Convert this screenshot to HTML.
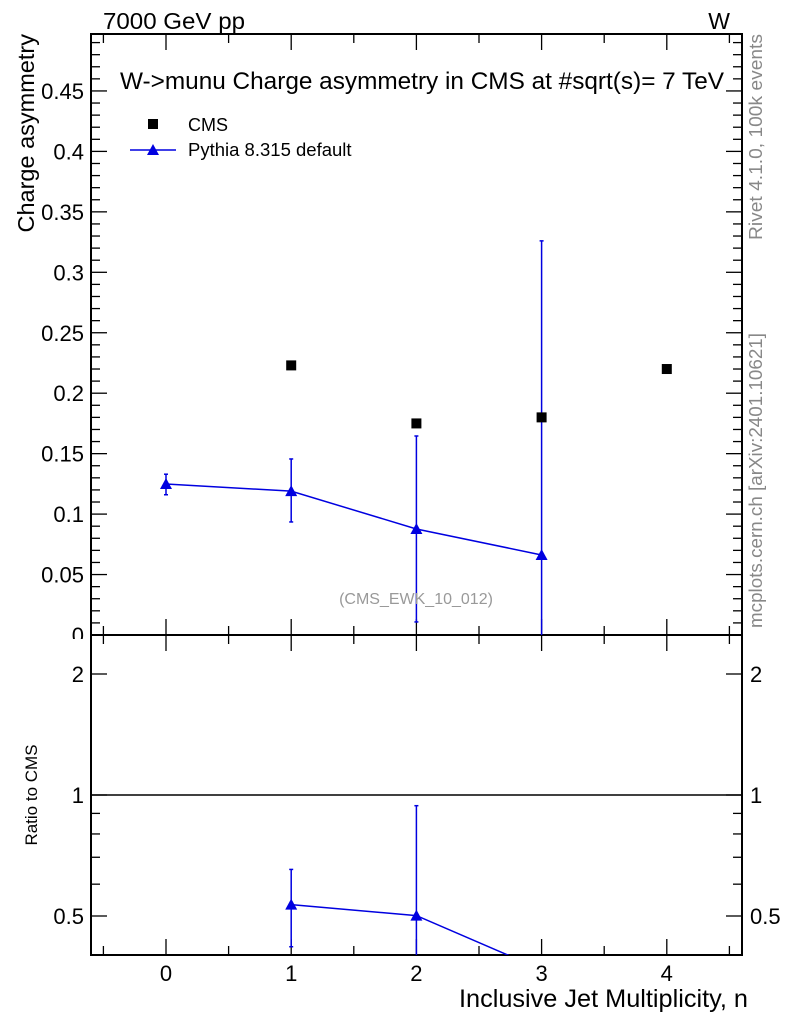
<!DOCTYPE html>
<html><head><meta charset="utf-8"><style>html,body{margin:0;background:#fff;overflow:hidden;width:786px;height:1024px}svg{display:block}</style></head>
<body>
<svg id="c" width="786" height="1024" xmlns="http://www.w3.org/2000/svg" font-family="Liberation Sans, sans-serif"></svg>
<script>
const categories=[0,1,2,3,4];
const cmsX=[1,2,3,4];
const cmsY=[0.223,0.175,0.180,0.220];
const pyX=[0,1,2,3];
const pyY=[0.1249,0.119,0.0877,0.0662];
const pyLo=[0.116,0.0935,0.0108,-0.05];
const pyHi=[0.133,0.1456,0.1646,0.326];
const yTicks=[0,0.05,0.1,0.15,0.2,0.25,0.3,0.35,0.4,0.45];
const yTickLabels=["0","0.05","0.1","0.15","0.2","0.25","0.3","0.35","0.4","0.45"];
const rTicks=[0.5,1,2];
const rTickLabels=["0.5","1","2"];

const NS="http://www.w3.org/2000/svg";
const svg=document.getElementById('c');
const L=91,R=742,T=34,MB=635,RB=955;
const RMIN=0.4,RMAX=2.5;
const X=v=>166+(v)*125.2;
const Y=v=>635-v*1209;
const RY=v=>795-Math.log2(v)*121;
function el(tag,a,parent){const e=document.createElementNS(NS,tag);for(const k in a)e.setAttribute(k,a[k]);(parent||svg).appendChild(e);return e;}
function txt(s,a,parent){const e=el('text',a,parent);e.textContent=s;return e;}

const defs=el('defs',{});
const c1=el('clipPath',{id:'cm'},defs);el('rect',{x:L,y:T,width:R-L,height:MB-T},c1);
const c2=el('clipPath',{id:'cr'},defs);el('rect',{x:L,y:MB,width:R-L,height:RB-MB},c2);
const c3=el('clipPath',{id:'cl'},defs);el('rect',{x:0,y:0,width:L,height:639},c3);

let f=el('rect',{x:L,y:T,width:R-L,height:MB-T,fill:'none',stroke:'#000','stroke-width':2});

f=el('rect',{x:L,y:MB,width:R-L,height:RB-MB,fill:'none',stroke:'#000','stroke-width':2});


for(let v=-0.5;v<=4.5;v+=0.5){
  const maj=Number.isInteger(v);const len=maj?16:9;const x=X(v);
  for(const [y0,d] of [[MB,-1],[T,1],[RB,-1],[MB,1]]){el('line',{x1:x,x2:x,y1:y0,y2:y0+d*len,stroke:'#000','stroke-width':1.3});}
}
for(let i=0;i<=49;i++){const v=i*0.01;const maj=i%5==0;const len=maj?16:9;const y=Y(v);
  el('line',{x1:L,x2:L+len,y1:y,y2:y,stroke:'#000','stroke-width':1.3});
  el('line',{x1:R,x2:R-len,y1:y,y2:y,stroke:'#000','stroke-width':1.3});}
const gl=el('g',{'clip-path':'url(#cl)'});
yTicks.forEach((v,i)=>{const t=txt(yTickLabels[i],{x:84,y:Y(v)+8,'text-anchor':'end','font-size':22},gl);
  });
[0.4,0.5,0.6,0.7,0.8,0.9,1,2].forEach(v=>{const maj=rTicks.includes(v);const len=maj?16:9;const y=RY(v);
  el('line',{x1:L,x2:L+len,y1:y,y2:y,stroke:'#000','stroke-width':1.3});
  el('line',{x1:R,x2:R-len,y1:y,y2:y,stroke:'#000','stroke-width':1.3});});
rTicks.forEach((v,i)=>{let t=txt(rTickLabels[i],{x:84,y:RY(v)+8,'text-anchor':'end','font-size':22});
  
  t=txt(rTickLabels[i],{x:750,y:RY(v)+8,'font-size':22});
  });
el('line',{x1:L,x2:R,y1:RY(1),y2:RY(1),stroke:'#000','stroke-width':1.5});
categories.forEach(v=>{const t=txt(String(v),{x:X(v),y:981,'text-anchor':'middle','font-size':22});
  });

const gm=el('g',{'clip-path':'url(#cm)'});
let pl=el('polyline',{points:pyX.map((x,i)=>X(x)+','+Y(pyY[i])).join(' '),fill:'none',stroke:'#0000e0','stroke-width':1.5},gm);

pyX.forEach((x,i)=>{const cx=X(x);
  const e=el('line',{x1:cx,x2:cx,y1:Y(pyLo[i]),y2:Y(pyHi[i]),stroke:'#0000e0','stroke-width':1.5},gm);
  
  [pyLo[i],pyHi[i]].forEach(v=>el('line',{x1:cx-2,x2:cx+2,y1:Y(v),y2:Y(v),stroke:'#0000e0','stroke-width':1.5},gm));
  const cy=Y(pyY[i]);
  const m=el('polygon',{points:`${cx},${cy-6} ${cx-6},${cy+5} ${cx+6},${cy+5}`,fill:'#0000e0'},gm);
  });
cmsX.forEach((x,i)=>{const m=el('rect',{x:X(x)-5,y:Y(cmsY[i])-5,width:10,height:10,fill:'#000'});
  });

const gr=el('g',{'clip-path':'url(#cr)'});
const rx=[],ry=[],rlo=[],rhi=[];
pyX.forEach((x,i)=>{const j=cmsX.indexOf(x);if(j<0)return;const c=cmsY[j];
  rx.push(x);ry.push(pyY[i]/c);rlo.push(Math.max(pyLo[i],0.001)/c);rhi.push(pyHi[i]/c);});
pl=el('polyline',{points:rx.map((x,i)=>X(x)+','+RY(ry[i])).join(' '),fill:'none',stroke:'#0000e0','stroke-width':1.5},gr);

rx.forEach((x,i)=>{if(ry[i]<RMIN||ry[i]>RMAX)return;const cx=X(x);
  const e=el('line',{x1:cx,x2:cx,y1:RY(rlo[i]),y2:RY(rhi[i]),stroke:'#0000e0','stroke-width':1.5},gr);
  
  [rlo[i],rhi[i]].forEach(v=>el('line',{x1:cx-2,x2:cx+2,y1:RY(v),y2:RY(v),stroke:'#0000e0','stroke-width':1.5},gr));
  const cy=RY(ry[i]);
  const m=el('polygon',{points:`${cx},${cy-6} ${cx-6},${cy+5} ${cx+6},${cy+5}`,fill:'#0000e0'},gr);
  });

let lg=el('rect',{x:148,y:119,width:10,height:10,fill:'#000'});

let t=txt('CMS',{x:188,y:131,'font-size':18});
el('line',{x1:130,x2:176,y1:150,y2:150,stroke:'#0000e0','stroke-width':1.5});
el('polygon',{points:'153,144 147,155 159,155',fill:'#0000e0'});
t=txt('Pythia 8.315 default',{x:188,y:156,'font-size':18.5});

t=txt('W->munu Charge asymmetry in CMS at #sqrt(s)= 7 TeV',{x:120,y:89,'font-size':24,textLength:604,lengthAdjust:'spacingAndGlyphs'});
t=txt('7000 GeV pp',{x:103,y:29,'font-size':23,textLength:142,lengthAdjust:'spacingAndGlyphs'});
t=txt('W',{x:730,y:29,'font-size':23,'text-anchor':'end'});
t=txt('(CMS_EWK_10_012)',{x:416,y:604,'font-size':16,fill:'#999','text-anchor':'middle'});
t=txt('Charge asymmetry',{x:0,y:0,'font-size':23.5,'text-anchor':'end',transform:'translate(34,34) rotate(-90)'});
t=txt('Ratio to CMS',{x:0,y:0,'font-size':17,'text-anchor':'middle',transform:'translate(37,795) rotate(-90)'});
t=txt('Inclusive Jet Multiplicity, n',{x:748,y:1007,'font-size':25,'text-anchor':'end',textLength:289,lengthAdjust:'spacingAndGlyphs'});
t=txt('Rivet 4.1.0,  100k events',{x:0,y:0,'font-size':18,fill:'#888','text-anchor':'end',textLength:206,lengthAdjust:'spacingAndGlyphs',transform:'translate(762,34) rotate(-90)'});
t=txt('mcplots.cern.ch [arXiv:2401.10621]',{x:0,y:0,'font-size':18,fill:'#888','text-anchor':'end',textLength:295,lengthAdjust:'spacingAndGlyphs',transform:'translate(762,333) rotate(-90)'});
</script>
</body></html>
